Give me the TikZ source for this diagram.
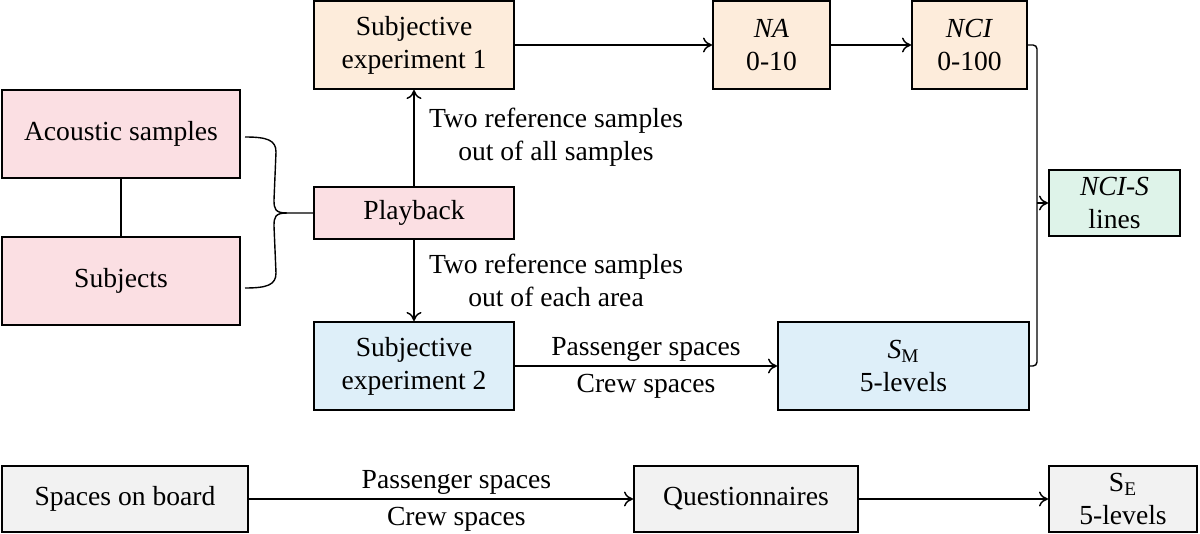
\documentclass[tikz,border=0pt]{standalone}
\usepackage{fontspec}
\setmainfont{Liberation Serif}
\usetikzlibrary{calc,arrows.meta}
\definecolor{pinkbox}{RGB}{251,223,227}
\definecolor{orangebox}{RGB}{253,236,219}
\definecolor{bluebox}{RGB}{222,239,249}
\definecolor{greenbox}{RGB}{222,243,233}
\definecolor{greybox}{RGB}{242,242,242}
\def\txt{\fontsize{13.8pt}{16.5pt}\selectfont}

\begin{document}
\begin{tikzpicture}[x=0.5pt,y=-0.5pt,
	box/.style={draw, line width=1pt, align=center, inner sep=0pt, font=\txt},
	lbl/.style={align=center, font=\txt},
	link/.style={line width=0.7pt},
	>={To[length=4.5pt,width=7.5pt]}]
\useasboundingbox (0,0) rectangle (1200,534);

\node[box, fill=pinkbox, minimum width=119pt, minimum height=44pt] (acoustic) at (121,134) {Acoustic samples};
\node[box, fill=pinkbox, minimum width=119pt, minimum height=44pt] (subjects) at (121,281) {Subjects};
\node[box, fill=pinkbox, minimum width=100pt, minimum height=26pt] (playback) at (414,213) {Playback};
\node[box, fill=orangebox, minimum width=100pt, minimum height=44pt] (exp1) at (414,45) {Subjective\\experiment 1};
\node[box, fill=orangebox, minimum width=58.5pt, minimum height=44pt] (na) at (771.5,45) {\textit{NA}\\0-10};
\node[box, fill=orangebox, minimum width=57.5pt, minimum height=44pt] (nci) at (969.5,45) {\textit{NCI}\\0-100};
\node[box, fill=greenbox, minimum width=65.5pt, minimum height=33pt] (ncis) at (1114.5,203) {\textit{NCI-S}\\lines};
\node[box, fill=bluebox, minimum width=100pt, minimum height=44pt] (exp2) at (414,366) {Subjective\\experiment 2};
\node[box, fill=bluebox, minimum width=125.5pt, minimum height=44pt] (sm) at (903.5,366) {\textit{S}\textsubscript{M}\\5-levels};
\node[box, fill=greybox, minimum width=123pt, minimum height=33pt] (board) at (125,499) {Spaces on board};
\node[box, fill=greybox, minimum width=112pt, minimum height=33pt] (quest) at (746,499) {Questionnaires};
\node[box, fill=greybox, minimum width=74pt, minimum height=33pt] (se) at (1123,499) {S\textsubscript{E}\\5-levels};

\node[lbl] (allsamples) at (556,137.5) {Two reference samples\\out of all samples};
\node[lbl] (eacharea) at (556,280) {Two reference samples\\out of each area};

\draw[link] (acoustic) -- (subjects);
\draw[link] ($(acoustic.east)+(4,3)$) .. controls +(22,0) and +(0,-12) .. ($(acoustic.east)+(35,18)$)
	-- ($(playback.west)+(-39,-13)$) .. controls +(0,9) and +(-12,0) .. ($(playback.west)+(-26,0)$) -- (playback.west);
\draw[link] ($(subjects.east)+(4,7)$) .. controls +(22,0) and +(0,12) .. ($(subjects.east)+(35,-8)$)
	-- ($(playback.west)+(-39,13)$) .. controls +(0,-9) and +(-12,0) .. ($(playback.west)+(-26,0)$);

\draw[link,->] (playback) -- (exp1);
\draw[link,->] (playback) -- (exp2);
\draw[link,->] (exp1) -- (na);
\draw[link,->] (na) -- (nci);
\draw[link,->] (exp2) -- (sm) node[midway, above, inner sep=2pt, font=\txt] {Passenger spaces}
	node[midway, below, inner sep=4pt, font=\txt] {Crew spaces};

\coordinate (join) at ($(nci.east)+(9,0)$);
\draw[link, rounded corners=2pt] (nci.east) -- (join) |- (sm.east);
\draw[link,->] (join |- ncis.west) -- (ncis.west);

\draw[link,->] (board) -- (quest) node[pos=0.54, above, inner sep=2pt, font=\txt] {Passenger spaces}
	node[pos=0.54, below, inner sep=4pt, font=\txt] {Crew spaces};
\draw[link,->] (quest) -- (se);
\end{tikzpicture}
\end{document}
